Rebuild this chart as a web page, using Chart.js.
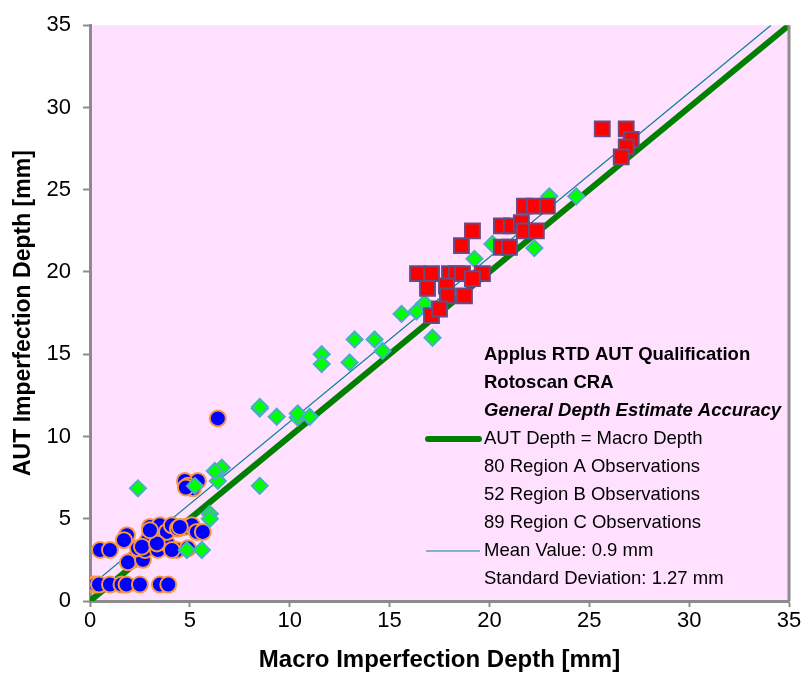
<!DOCTYPE html>
<html>
<head>
<meta charset="utf-8">
<script src="https://cdn.jsdelivr.net/npm/chart.js@4.4.0/dist/chart.umd.min.js"></script>
<style>
html,body{margin:0;padding:0;background:#fff;}
#wrap{width:803px;height:675px;}
</style>
</head>
<body>
<div id="wrap"><canvas id="c" width="803" height="675"></canvas></div>
<script>
// ---- data ----
const axisTicks = [0, 5, 10, 15, 20, 25, 30, 35];
const regionA = [
  [0.17,1.0],[0.3,1.0],[0.45,1.0],[1.0,1.0],[1.58,1.0],[1.83,1.0],[2.5,1.0],[3.5,1.0],[3.92,1.0],
  [0.5,3.1],[1.0,3.1],[4.35,3.1],[4.9,3.2],
  [1.85,4.0],[1.7,3.7],
  [2.15,2.5],[1.9,2.35],[2.65,2.5],
  [2.4,3.2],[2.75,3.1],[3.4,3.1],[3.85,3.5],[4.1,3.1],
  [3.0,4.5],[3.1,3.9],[3.5,4.6],[3.85,4.2],[4.1,4.6],[4.4,4.4],[4.75,4.5],[5.1,4.6],[5.35,4.2],[5.65,4.2],
  [2.9,3.7],[2.6,3.3],[3.35,3.5],[3.0,4.3],[4.5,4.5],
  [6.4,11.1],
  [4.75,7.3],[5.4,7.3],[4.9,7.0],[5.15,6.85],[4.8,6.9]
];
const regionB = [
  [2.4,6.85],[6.6,8.1],[6.4,7.3],[5.25,7.0],[6.25,7.9],[6.0,5.3],[6.0,5.0],[4.85,3.1],[5.6,3.1],
  [8.5,11.7],[8.5,11.8],[9.35,11.2],[10.4,11.15],[10.4,11.4],[11.0,11.2],[8.5,7.0],
  [11.6,15.0],[11.6,14.4],[13.0,14.5],[13.25,15.9],[14.25,15.9],[14.65,15.2],
  [15.6,17.45],[16.35,17.6],[16.75,18.1],[17.15,16.0],
  [19.25,20.8],[20.15,21.7],[22.25,21.45],[23.0,24.6],[24.35,24.6]
];
const regionC = [
  [25.65,28.7],[26.85,28.7],[27.1,28.05],[26.85,27.6],[26.6,27.0],
  [21.75,24.0],[22.25,24.0],[22.9,24.0],
  [19.15,22.5],[18.6,21.6],[20.6,22.8],[21.1,22.8],[21.6,23.0],[21.75,22.5],[22.35,22.5],[20.6,21.5],[21.0,21.5],
  [16.4,19.9],[17.1,19.9],[18.0,19.9],[18.35,19.9],[18.65,19.9],[19.65,19.9],
  [16.9,19.0],[17.85,19.15],[17.9,18.55],[18.75,18.55],[19.15,19.6],[17.1,17.35],[17.5,17.75]
];
const identityLine = [[0,0],[35,35]];
const meanLine = [[0,0.9],[34.1,35]];
const legendTitles = ["Applus RTD AUT Qualification", "Rotoscan CRA", "General Depth Estimate Accuracy"];
const legendItems = ["AUT Depth = Macro Depth", "80 Region A Observations", "52 Region B Observations", "89 Region C Observations", "Mean Value: 0.9 mm", "Standard Deviation: 1.27 mm"];
const xTitle = "Macro Imperfection Depth [mm]";
const yTitle = "AUT Imperfection Depth [mm]";

const toPts = a => a.map(p => ({x:p[0], y:p[1]}));
const FONT = "'Liberation Sans', Arial, sans-serif";
const TEAL = '#0E7F96';

const bgPlugin = {
  id:'bg',
  beforeDraw(chart){
    const {ctx, chartArea:a} = chart;
    ctx.save();
    ctx.fillStyle = '#FFE1FF';
    ctx.fillRect(a.left, a.top, a.right-a.left, a.bottom-a.top);
    ctx.restore();
  },
  afterDraw(chart){
    const {ctx, chartArea:a} = chart;
    ctx.save();
    ctx.strokeStyle = '#8c8c8c';
    ctx.lineWidth = 3;
    ctx.beginPath();
    ctx.moveTo(a.right, a.top); ctx.lineTo(a.right, a.bottom);
    ctx.stroke();
    // legend
    const lx = 484;
    let y = 355;
    ctx.fillStyle = '#000';
    ctx.textBaseline = 'middle';
    ctx.textAlign = 'left';
    legendTitles.forEach((t,i) => {
      ctx.font = (i===2 ? 'italic bold ' : 'bold ') + '18.5px ' + FONT;
      ctx.fillText(t, lx, y + i*28);
    });
    y = 355 + 3*28;
    ctx.strokeStyle = '#008000'; ctx.lineWidth = 6; ctx.lineCap='round';
    ctx.beginPath(); ctx.moveTo(428, y); ctx.lineTo(479, y); ctx.stroke();
    ctx.strokeStyle = TEAL; ctx.lineWidth = 1.2; ctx.lineCap='butt';
    ctx.beginPath(); ctx.moveTo(426, y + 4*28); ctx.lineTo(480, y + 4*28); ctx.stroke();
    ctx.font = '18.5px ' + FONT;
    legendItems.forEach((t,i) => ctx.fillText(t, lx, y + i*28));
    ctx.restore();
  }
};

new Chart(document.getElementById('c'), {
  type:'scatter',
  data:{
    datasets:[
      {label:legendItems[3], data:toPts(regionC), pointStyle:'rect', pointRadius:10.5, pointHoverRadius:10.5,
        backgroundColor:'#FF0000', borderColor:'#6A4A80', borderWidth:2, order:1},
      {label:legendItems[2], data:toPts(regionB), pointStyle:'rectRot', pointRadius:8, pointHoverRadius:8,
        backgroundColor:'#00FF00', borderColor:'#4BACC6', borderWidth:2, order:2},
      {label:legendItems[1], data:toPts(regionA), pointStyle:'circle', pointRadius:8, pointHoverRadius:8,
        backgroundColor:'#0000FF', borderColor:'#F79646', borderWidth:2, order:3},
      {label:legendItems[4], type:'line', data:toPts(meanLine), showLine:true, borderColor:TEAL, borderWidth:1.2,
        pointRadius:0, fill:false, order:4},
      {label:legendItems[0], type:'line', data:toPts(identityLine), showLine:true, borderColor:'#008000', borderWidth:6,
        pointRadius:0, fill:false, order:5}
    ]
  },
  options:{
    responsive:false, animation:false,
    layout:{padding:{top:23, right:14, left:0, bottom:0}},
    plugins:{legend:{display:false}, tooltip:{enabled:false}},
    scales:{
      x:{type:'linear', min:0, max:35,
        afterBuildTicks(s){ s.ticks = axisTicks.map(v=>({value:v})); },
        afterFit(s){ s.height = 74; },
        grid:{drawOnChartArea:false, drawTicks:true, tickLength:6, tickColor:'#8c8c8c', tickWidth:2},
        border:{color:'#8c8c8c', width:3},
        ticks:{font:{family:FONT, size:22}, color:'#000', padding:1, maxRotation:0},
        title:{display:true, text:xTitle, font:{family:FONT, size:24, weight:'bold'}, color:'#000', padding:{top:0,bottom:0}}
      },
      y:{type:'linear', min:0, max:35,
        afterBuildTicks(s){ s.ticks = axisTicks.map(v=>({value:v})); },
        afterFit(s){ s.width = 90; },
        grid:{drawOnChartArea:false, drawTicks:true, tickLength:7, tickColor:'#8c8c8c', tickWidth:2},
        border:{color:'#8c8c8c', width:3},
        ticks:{font:{family:FONT, size:22}, color:'#000', padding:12},
        title:{display:true, text:yTitle, font:{family:FONT, size:23, weight:'bold'}, color:'#000', padding:{top:10,bottom:0}}
      }
    }
  },
  plugins:[bgPlugin]
});
</script>
</body>
</html>
